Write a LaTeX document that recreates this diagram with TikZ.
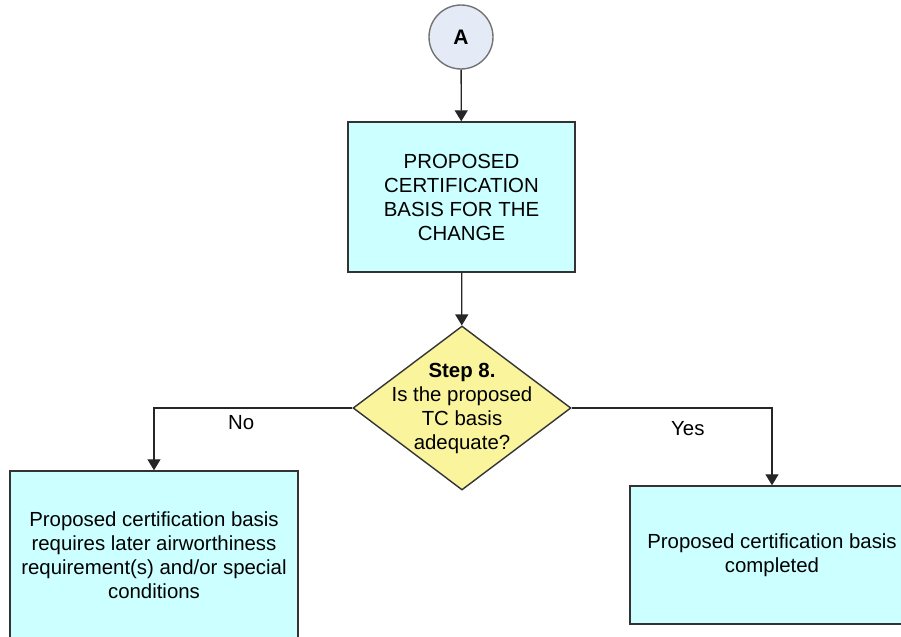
\documentclass[tikz,border=0pt]{standalone}
\usepackage{fontspec}
\setmainfont{Liberation Sans}
\usetikzlibrary{shapes.geometric,arrows.meta}
\definecolor{boxcyan}{HTML}{CCFFFF}
\definecolor{circfill}{HTML}{E4EAF6}
\definecolor{diafill}{HTML}{FAF49C}

\begin{document}
\begin{tikzpicture}[x=0.5pt,y=-0.5pt,>={Triangle[width=6.5pt,length=5.5pt]},
    every node/.style={font=\fontsize{10.2}{12}\selectfont,align=center},
    box/.style={draw=black!80,fill=boxcyan,line width=0.7pt,inner sep=0pt},
    link/.style={draw=black!85,line width=0.65pt,->}]
        \useasboundingbox (0,0) rectangle (901,637);
        \clip (0,0) rectangle (901,637);
        \node[circle,draw=black!55,fill=circfill,line width=0.7pt,minimum size=32pt,inner sep=0pt,font=\fontsize{10.5}{12}\selectfont\bfseries](A) at (461,37){A};
        \node[box,minimum width=113.5pt,minimum height=75pt](basis) at (461.5,197){PROPOSED\\CERTIFICATION\\BASIS FOR THE\\CHANGE};
        \node[diamond,draw=black!80,fill=diafill,line width=0.7pt,minimum width=109pt,minimum height=82pt,inner sep=0pt](step) at (462,408){};
        \node(steptxt) at (462,408){\textbf{Step 8.}\\Is the proposed\\TC basis\\adequate?};
        \node[box,minimum width=144pt,minimum height=84.5pt](later) at (154,555.5){Proposed certification basis\\requires later airworthiness\\requirement(s) and/or special\\conditions};
        \node[box,minimum width=142pt,minimum height=69pt](done) at (772,555){Proposed certification basis\\completed};
        \draw[link](A)--(basis);
        \draw[link](basis)--(step);
        \draw[link](step.west)-|node[pos=0.28,below=3.5pt,inner sep=0pt]{No}(later.north);
        \draw[link](step.east)-|node[pos=0.29,below=6.5pt,inner sep=0pt]{Yes}(done.north);
    \end{tikzpicture}
\end{document}
